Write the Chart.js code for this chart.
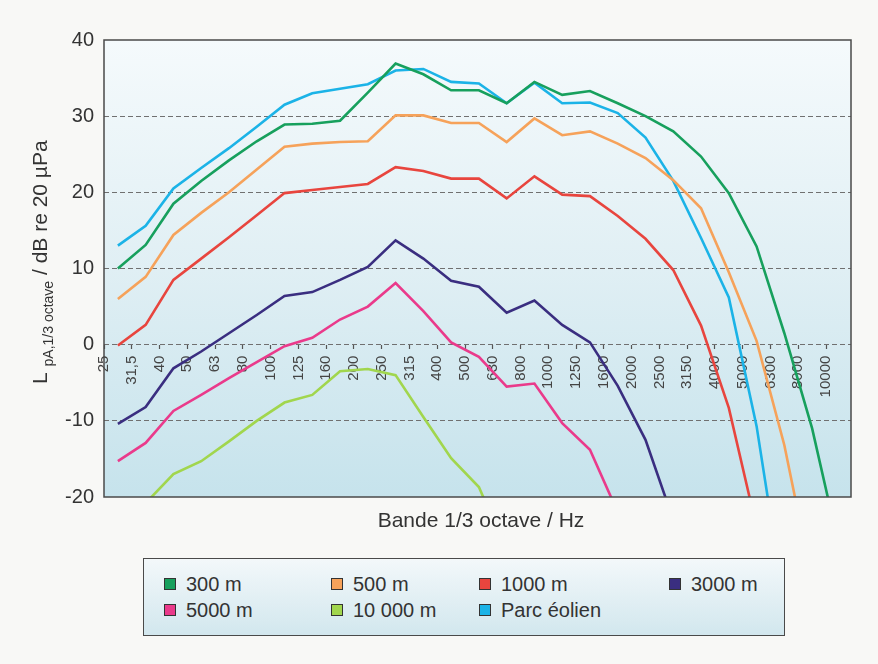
<!DOCTYPE html>
<html>
<head>
<meta charset="utf-8">
<script src="https://cdn.jsdelivr.net/npm/chart.js@4.4.1/dist/chart.umd.min.js"></script>
<style>
  html, body { margin: 0; padding: 0; }
  body {
    width: 878px; height: 664px; position: relative; overflow: hidden;
    background: #f8f8f6;
    font-family: "Liberation Sans", Arial, sans-serif;
  }
  #wrap { position: absolute; left: 0; top: 0; width: 878px; height: 664px; }
  #legend {
    position: absolute; left: 143px; top: 558px; width: 642px; height: 78px;
    box-sizing: border-box; border: 1.5px solid #4a4a4a;
    background: linear-gradient(#f3f8fa, #d2e7ee);
  }
  .item {
    position: absolute; height: 22px; display: flex; align-items: center;
    font-size: 20px; color: #333; white-space: nowrap;
  }
  .sw { width: 12px; height: 12px; border: 1px solid #333; margin-right: 10px; box-sizing: border-box; }
</style>
</head>
<body>
<div id="wrap"><canvas id="c" width="878" height="664"></canvas></div>
<div id="legend"></div>
<script>
// Third-octave band centre frequencies (Hz)
const bands = ['25', '31,5', '40', '50', '63', '80', '100', '125', '160', '200', '250', '315', '400',
  '500', '630', '800', '1000', '1250', '1600', '2000', '2500', '3150', '4000', '5000', '6300', '8000', '10000'];

// A-weighted 1/3-octave levels, dB re 20 µPa, one value per band
const lvl300m = [10.0, 13.1, 18.5, 21.5, 24.2, 26.7, 28.9, 29.0, 29.4, 33.1, 36.9, 35.5, 33.4, 33.4,
  31.7, 34.5, 32.8, 33.3, 31.7, 30.0, 28.0, 24.7, 19.9, 12.9, 1.5, -11.0, -27.0];
const lvl500m = [6.0, 8.9, 14.4, 17.3, 20.0, 23.0, 26.0, 26.4, 26.6, 26.7, 30.1, 30.1, 29.1, 29.1,
  26.6, 29.7, 27.5, 28.0, 26.4, 24.5, 21.6, 17.9, 9.5, 0.5, -13.2, -31.0];
const lvl1000m = [-0.1, 2.6, 8.5, 11.3, 14.1, 17.0, 19.9, 20.3, 20.7, 21.1, 23.3, 22.8, 21.8, 21.8,
  19.2, 22.1, 19.7, 19.5, 16.9, 13.9, 9.8, 2.5, -8.3, -24.0];
const lvl3000m = [-10.4, -8.2, -3.1, -0.9, 1.5, 3.9, 6.4, 6.9, 8.5, 10.2, 13.7, 11.3, 8.4, 7.6,
  4.2, 5.8, 2.6, 0.3, -5.4, -12.5, -23.0];
const lvl5000m = [-15.3, -12.9, -8.7, -6.6, -4.4, -2.3, -0.2, 0.9, 3.3, 5.0, 8.1, 4.4, 0.3, -1.6,
  -5.5, -5.1, -10.3, -13.8, -22.0];
const lvl10000m = [null, -20.8, -17.0, -15.3, -12.7, -10.0, -7.6, -6.6, -3.5, -3.2, -4.0, -9.5, -14.9,
  -18.7, -27.0];
const lvlParc = [13.0, 15.6, 20.5, 23.2, 25.8, 28.6, 31.5, 33.0, 33.6, 34.2, 36.0, 36.2, 34.5, 34.3,
  31.7, 34.4, 31.7, 31.8, 30.4, 27.2, 21.5, 14.0, 6.2, -10.7, -34.0];

const seriesNames = ['300 m', '5000 m', '500 m', '10 000 m', '1000 m', 'Parc éolien', '3000 m'];
const seriesValues = [lvl300m, lvl5000m, lvl500m, lvl10000m, lvl1000m, lvlParc, lvl3000m];
const seriesColors = ['#17a05d', '#ea3a8b', '#f6a25a', '#a1d64d', '#e8453e', '#1bb3e7', '#3a2e80'];

const FONT = '"Liberation Sans", Arial, sans-serif';

// each band's level sits midway between its label tick and the next
const toPoints = vals => vals.map((v, i) => ({ x: i + 0.5, y: v }));

const datasets = seriesNames.map((name, i) => ({
  label: name,
  data: toPoints(seriesValues[i]),
  borderColor: seriesColors[i],
  backgroundColor: seriesColors[i],
  borderWidth: 2.6,
  pointRadius: 0,
  tension: 0,
  clip: 0,
  spanGaps: false
}));

const frame = {
  id: 'frame',
  beforeDraw(chart) {
    const { ctx, chartArea: a } = chart;
    const g = ctx.createLinearGradient(0, a.top, 0, a.bottom);
    g.addColorStop(0, '#f5fafc');
    g.addColorStop(0.5, '#e0eff4');
    g.addColorStop(1, '#c6e3ec');
    ctx.save();
    ctx.fillStyle = g;
    ctx.fillRect(a.left, a.top, a.right - a.left, a.bottom - a.top);
    ctx.restore();
  },
  afterDraw(chart) {
    const { ctx, chartArea: a } = chart;
    ctx.save();
    ctx.strokeStyle = '#4a4a4a';
    ctx.lineWidth = 1.5;
    ctx.strokeRect(a.left, a.top, a.right - a.left, a.bottom - a.top);

    ctx.fillStyle = '#333';
    // x-axis title
    ctx.font = '21px ' + FONT;
    ctx.textAlign = 'center';
    ctx.textBaseline = 'middle';
    ctx.fillText('Bande 1/3 octave / Hz', 481, 521);

    // y-axis title with subscript
    ctx.translate(47, 384);
    ctx.rotate(-Math.PI / 2);
    ctx.textAlign = 'left';
    ctx.textBaseline = 'alphabetic';
    let x = 0;
    ctx.font = '21px ' + FONT;
    ctx.fillText('L', 0, 0);
    x += ctx.measureText('L ').width;
    ctx.font = '14px ' + FONT;
    ctx.fillText('pA,1/3 octave', x, 6);
    x += ctx.measureText('pA,1/3 octave').width;
    ctx.font = '21px ' + FONT;
    ctx.fillText(' / dB re 20 µPa', x, 0);
    ctx.restore();
  }
};

const chart = new Chart(document.getElementById('c'), {
  type: 'line',
  data: { datasets },
  options: {
    responsive: false,
    animation: false,
    devicePixelRatio: 1,
    layout: { padding: { left: 0, top: 40, right: 27, bottom: 167 } },
    plugins: { legend: { display: false }, tooltip: { enabled: false } },
    scales: {
      x: {
        type: 'linear',
        min: 0,
        max: 26.9,
        position: { y: 0 },
        afterBuildTicks: s => { s.ticks = bands.map((_, i) => ({ value: i })); },
        ticks: {
          autoSkip: false,
          minRotation: 90,
          maxRotation: 90,
          padding: 7,
          color: '#444',
          font: { family: FONT, size: 15 },
          callback: v => bands[v] ?? ''
        },
        grid: { drawOnChartArea: false, drawTicks: true, tickLength: 4, tickColor: '#555', tickWidth: 1.2 },
        border: { display: false }
      },
      y: {
        min: -20,
        max: 40,
        afterFit: s => { s.width = 104; },
        ticks: { stepSize: 10, padding: 10, color: '#333', font: { family: FONT, size: 20 } },
        grid: {
          drawTicks: false,
          lineWidth: 1,
          color: c => (c.tick.value === 40 || c.tick.value === -20) ? 'rgba(0,0,0,0)' : '#707070'
        },
        border: { display: false, dash: [5, 3] }
      }
    }
  },
  plugins: [frame]
});

// legend box: four columns, two rows, in the order 300/500/1000/3000, 5000/10 000/Parc
const legendOrder = [0, 2, 4, 6, 1, 3, 5];
const colLeft = [20, 187, 335, 525];
const rowTop = [14, 40];
const legendEl = document.getElementById('legend');
legendOrder.forEach((dsIndex, slot) => {
  const ds = chart.data.datasets[dsIndex];
  const item = document.createElement('div');
  item.className = 'item';
  item.style.left = colLeft[slot % 4] + 'px';
  item.style.top = rowTop[Math.floor(slot / 4)] + 'px';
  const sw = document.createElement('span');
  sw.className = 'sw';
  sw.style.background = ds.borderColor;
  const txt = document.createElement('span');
  txt.textContent = ds.label;
  item.appendChild(sw);
  item.appendChild(txt);
  legendEl.appendChild(item);
});
</script>
</body>
</html>
